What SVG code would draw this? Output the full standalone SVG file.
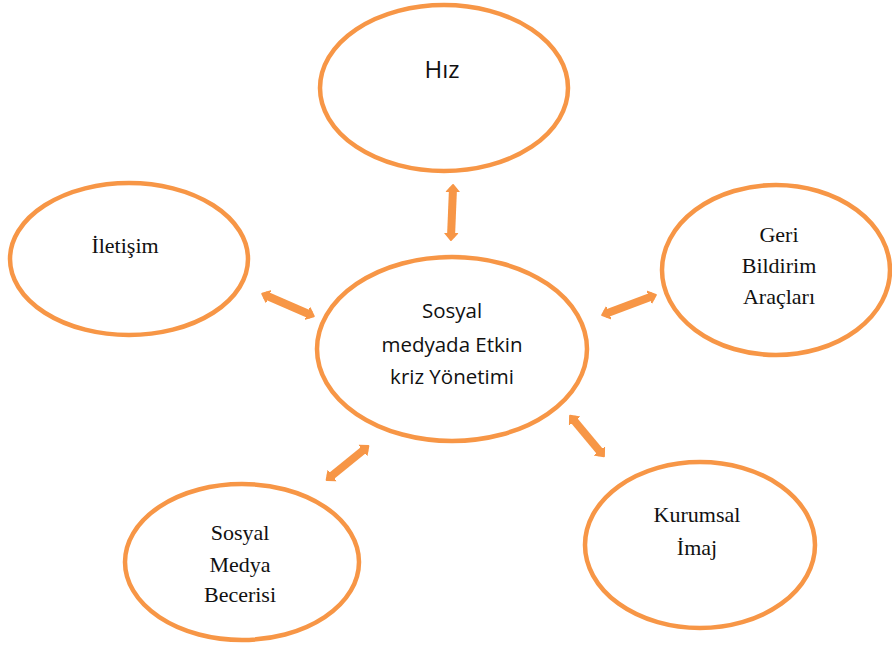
<svg xmlns="http://www.w3.org/2000/svg" width="892" height="647" viewBox="0 0 892 647">
<defs>
<marker id="ah" markerUnits="userSpaceOnUse" markerWidth="16" markerHeight="16" viewBox="0 0 16 16" refX="4" refY="8" orient="auto-start-reverse">
<path d="M0,2 L7,8 L0,14 Z" fill="#f79646" stroke="#f79646" stroke-width="2" stroke-linejoin="round"/>
</marker>
</defs>
<style>
.n{fill:#fff;stroke:#f79646;stroke-width:4.5}
.c{stroke:#f79646;stroke-width:8;fill:none;marker-start:url(#ah);marker-end:url(#ah)}
.s{font-family:"Open Sans","Liberation Sans",sans-serif;font-size:20.5px;fill:#111;text-anchor:middle}
.t{font-family:"Liberation Serif","Times New Roman",serif;font-size:22px;fill:#111;text-anchor:middle}
</style>
<rect width="892" height="647" fill="#fff"/>
<g id="connectors">
<line class="c" x1="453" y1="188" x2="451" y2="237"/>
<line class="c" x1="265" y1="295" x2="311" y2="315"/>
<line class="c" x1="605" y1="314" x2="653" y2="296"/>
<line class="c" x1="329" y1="478" x2="366" y2="448"/>
<line class="c" x1="572" y1="418" x2="602" y2="454"/>
</g>
<g id="hiz">
<ellipse class="n" cx="444" cy="88" rx="124" ry="83"/>
<text class="s" x="442" y="78" style="font-size:24px">Hız</text>
</g>
<g id="merkez">
<ellipse class="n" cx="452" cy="349" rx="135" ry="92"/>
<text class="s" x="452" y="318">Sosyal</text>
<text class="s" x="452" y="352">medyada Etkin</text>
<text class="s" x="452" y="384">kriz Yönetimi</text>
</g>
<g id="iletisim">
<ellipse class="n" cx="129" cy="259" rx="119" ry="76"/>
<text class="t" x="125" y="253">İletişim</text>
</g>
<g id="geri">
<ellipse class="n" cx="776" cy="270" rx="114" ry="85"/>
<text class="t" x="779" y="242">Geri</text>
<text class="t" x="779" y="273">Bildirim</text>
<text class="t" x="779" y="304">Araçları</text>
</g>
<g id="beceri">
<ellipse class="n" cx="242" cy="562" rx="117" ry="78"/>
<text class="t" x="240" y="540">Sosyal</text>
<text class="t" x="240" y="572">Medya</text>
<text class="t" x="240" y="602">Becerisi</text>
</g>
<g id="imaj">
<ellipse class="n" cx="700" cy="545" rx="115" ry="83"/>
<text class="t" x="697" y="522">Kurumsal</text>
<text class="t" x="697" y="555">İmaj</text>
</g>
</svg>
